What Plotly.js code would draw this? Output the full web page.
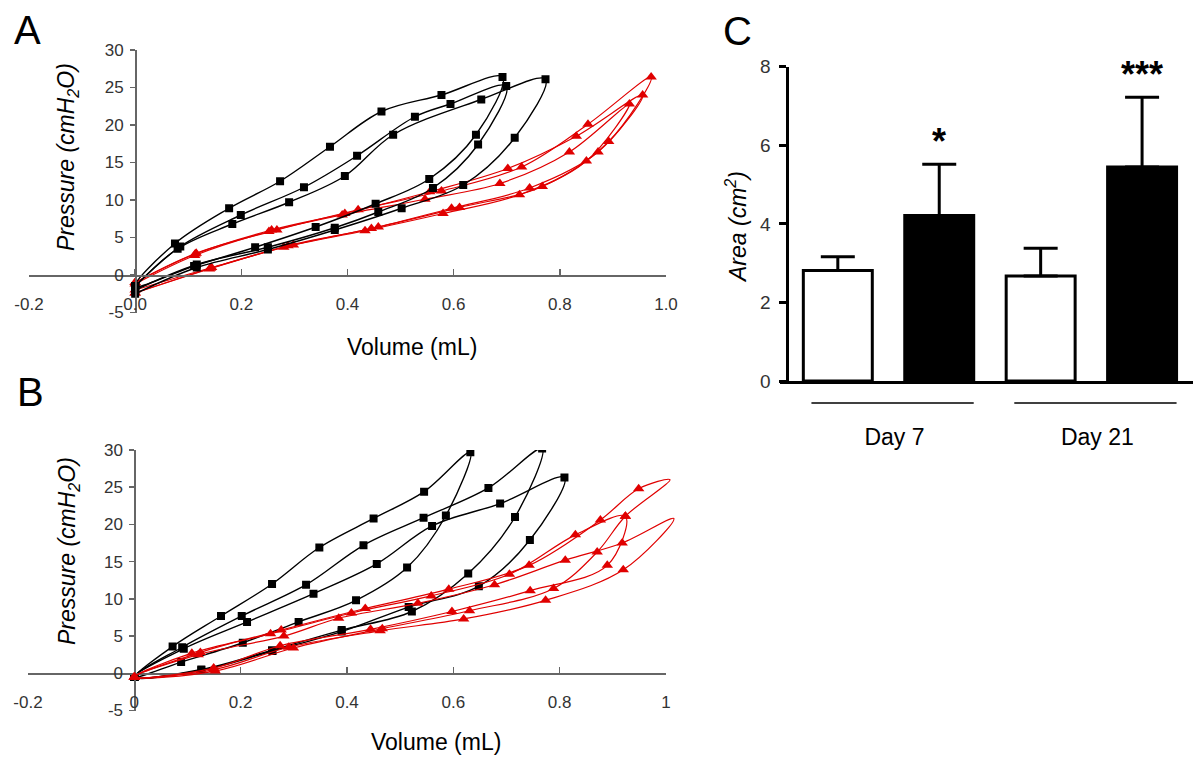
<!DOCTYPE html>
<html><head><meta charset="utf-8">
<script src="https://cdn.plot.ly/plotly-3.0.1.min.js"></script>
<style>html,body{margin:0;padding:0;background:#fff}</style>
</head><body><div id="chart" style="width:1200px;height:765px"></div>
<script>
// ---------- Panel A : pressure-volume loops ----------
const aBk1X = [0, 0.075, 0.177, 0.273, 0.367, 0.464, 0.577, 0.692, 0.642, 0.554, 0.453, 0.340, 0.226, 0.111, 0];
const aBk1Y = [-1.5, 4.2, 8.9, 12.5, 17.1, 21.8, 24.0, 26.4, 18.7, 12.8, 9.5, 6.4, 3.7, 1.2, -1.5];
const aBk2X = [0, 0.085, 0.199, 0.318, 0.418, 0.527, 0.594, 0.699, 0.646, 0.561, 0.458, 0.376, 0.250, 0.116, 0];
const aBk2Y = [-1.5, 3.8, 8.0, 11.7, 15.9, 21.1, 22.8, 25.2, 17.4, 11.6, 8.4, 6.3, 3.7, 1.4, -2.0];
const aBk3X = [0, 0.080, 0.183, 0.290, 0.395, 0.486, 0.652, 0.773, 0.715, 0.618, 0.502, 0.376, 0.250, 0.116, 0];
const aBk3Y = [-1.5, 3.5, 6.8, 9.7, 13.2, 18.7, 23.4, 26.1, 18.3, 12.0, 8.9, 6.0, 3.4, 1.0, -2.5];
const aRd1X = [0, 0.115, 0.267, 0.420, 0.577, 0.728, 0.853, 0.972, 0.892, 0.767, 0.611, 0.458, 0.298, 0.144, 0];
const aRd1Y = [-1.0, 2.9, 6.0, 8.7, 11.2, 14.4, 20.1, 26.4, 17.8, 11.8, 9.0, 6.4, 4.0, 1.0, -2.0];
const aRd2X = [0, 0.113, 0.257, 0.395, 0.555, 0.702, 0.831, 0.956, 0.872, 0.743, 0.596, 0.445, 0.288, 0.142, 0];
const aRd2Y = [-1.0, 2.8, 6.0, 8.2, 11.1, 14.2, 18.5, 24.0, 16.4, 11.6, 8.9, 6.2, 3.9, 0.9, -2.4];
const aRd3X = [0, 0.112, 0.252, 0.390, 0.546, 0.687, 0.818, 0.931, 0.850, 0.724, 0.580, 0.433, 0.280, 0.140, 0];
const aRd3Y = [-1.2, 2.6, 5.8, 8.0, 10.1, 12.2, 16.4, 22.8, 15.2, 10.7, 8.2, 5.9, 3.7, 0.8, -2.4];

// ---------- Panel B ----------
const bBk1X = [0, 0.072, 0.163, 0.259, 0.348, 0.450, 0.545, 0.632, 0.586, 0.513, 0.417, 0.309, 0.204, 0.088, 0];
const bBk1Y = [-0.5, 3.6, 7.7, 12.0, 16.9, 20.8, 24.4, 29.7, 21.2, 14.2, 9.8, 6.9, 4.1, 1.5, -0.5];
const bBk2X = [0, 0.090, 0.202, 0.323, 0.431, 0.544, 0.666, 0.767, 0.716, 0.628, 0.522, 0.390, 0.259, 0.126, 0];
const bBk2Y = [-0.5, 3.5, 7.7, 11.9, 17.2, 20.9, 24.9, 30.2, 21.0, 13.4, 8.3, 5.8, 3.1, 0.5, -0.5];
const bBk3X = [0, 0.093, 0.212, 0.337, 0.456, 0.560, 0.688, 0.809, 0.744, 0.648, 0.516, 0.390, 0.260, 0.126, 0];
const bBk3Y = [-0.5, 3.3, 6.9, 10.7, 14.7, 19.8, 22.8, 26.3, 17.9, 11.7, 8.9, 5.6, 3.0, 0.4, -0.5];
const bRd1UpX = [0, 0.124, 0.276, 0.434, 0.591, 0.742, 0.876, 0.948];
const bRd1UpY = [-0.5, 2.8, 5.8, 8.7, 11.3, 14.5, 20.6, 24.8];
const bRd1TipX = [1.007], bRd1TipY = [26.0];
const bRd1DnX = [0.923, 0.870, 0.788, 0.630, 0.466, 0.299, 0.152, 0];
const bRd1DnY = [21.1, 16.3, 11.4, 8.4, 6.0, 3.4, 0.3, -0.5];
const bRd2UpX = [0, 0.108, 0.256, 0.408, 0.558, 0.705, 0.829, 0.923];
const bRd2UpY = [-0.5, 2.7, 5.3, 8.1, 10.4, 13.3, 18.6, 21.1];
const bRd2TipX = [], bRd2TipY = [];
const bRd2DnX = [0.889, 0.744, 0.597, 0.444, 0.274, 0.149, 0];
const bRd2DnY = [14.5, 11.1, 8.3, 5.9, 3.7, 0.7, -0.5];
const bRd3UpX = [0, 0.120, 0.281, 0.384, 0.533, 0.677, 0.810, 0.917];
const bRd3UpY = [-0.5, 2.5, 5.0, 7.4, 9.4, 11.9, 15.2, 17.5];
const bRd3TipX = [1.014], bRd3TipY = [20.8];
const bRd3DnX = [0.919, 0.773, 0.619, 0.462, 0.290, 0.150, 0];
const bRd3DnY = [13.9, 9.8, 7.3, 5.7, 3.5, 0.5, -0.5];

// ---------- Panel C : bar chart ----------
const cDays = ['Day 7', 'Day 21'];
const cCtrl = [2.81, 2.67];
const cCtrlErr = [0.35, 0.71];
const cTreat = [4.21, 5.45];
const cTreatErr = [1.31, 1.77];
const cStars = ['*', '***'];

// ---------- tick labels ----------
const aTickX = [-0.2, 0, 0.2, 0.4, 0.6, 0.8, 1.0];
const aTickXText = ['-0.2', '0.0', '0.2', '0.4', '0.6', '0.8', '1.0'];
const bTickXText = ['-0.2', '0', '0.2', '0.4', '0.6', '0.8', '1'];
const pTickY = [-5, 0, 5, 10, 15, 20, 25, 30];
const pTickYText = ['-5', '0', '5', '10', '15', '20', '25', '30'];
const cTickY = [0, 2, 4, 6, 8];

const BLACK = '#000000', RED = '#e00000';
const FONT = 'Liberation Sans, Arial, sans-serif';

function loopTrace(x, y, xa, ya, color, symbol, size, lw) {
  return {type: 'scatter', mode: 'lines+markers', x: x, y: y, xaxis: xa, yaxis: ya,
    line: {color: color, width: lw, shape: 'spline', smoothing: 1},
    marker: {symbol: symbol, size: size, color: color}, hoverinfo: 'skip'};
}
function tipLoop(ux, uy, tx, ty, dx, dy, xa, ya) {
  return [
    {type: 'scatter', mode: 'lines', x: ux.concat(tx, dx), y: uy.concat(ty, dy), xaxis: xa, yaxis: ya,
      line: {color: RED, width: 1.2, shape: 'spline', smoothing: 1}, hoverinfo: 'skip'},
    {type: 'scatter', mode: 'markers', x: ux.concat(dx), y: uy.concat(dy), xaxis: xa, yaxis: ya,
      marker: {symbol: 'triangle-up', size: 10, color: RED}, hoverinfo: 'skip'}
  ];
}

const traces = [
  loopTrace(aRd1X, aRd1Y, 'x', 'y', RED, 'triangle-up', 10, 1.2),
  loopTrace(aRd2X, aRd2Y, 'x', 'y', RED, 'triangle-up', 10, 1.2),
  loopTrace(aRd3X, aRd3Y, 'x', 'y', RED, 'triangle-up', 10, 1.2),
  loopTrace(aBk1X, aBk1Y, 'x', 'y', BLACK, 'square', 8, 1.4),
  loopTrace(aBk2X, aBk2Y, 'x', 'y', BLACK, 'square', 8, 1.4),
  loopTrace(aBk3X, aBk3Y, 'x', 'y', BLACK, 'square', 8, 1.4),
  loopTrace(bBk1X, bBk1Y, 'x2', 'y2', BLACK, 'square', 8, 1.4),
  loopTrace(bBk2X, bBk2Y, 'x2', 'y2', BLACK, 'square', 8, 1.4),
  loopTrace(bBk3X, bBk3Y, 'x2', 'y2', BLACK, 'square', 8, 1.4)
].concat(
  tipLoop(bRd1UpX, bRd1UpY, bRd1TipX, bRd1TipY, bRd1DnX, bRd1DnY, 'x4', 'y2'),
  tipLoop(bRd2UpX, bRd2UpY, bRd2TipX, bRd2TipY, bRd2DnX, bRd2DnY, 'x4', 'y2'),
  tipLoop(bRd3UpX, bRd3UpY, bRd3TipX, bRd3TipY, bRd3DnX, bRd3DnY, 'x4', 'y2'),
  [
    {type: 'bar', x: cDays, y: cCtrl, xaxis: 'x3', yaxis: 'y3', name: 'control',
      marker: {color: '#ffffff', line: {color: BLACK, width: 3}},
      error_y: {type: 'data', symmetric: false, array: cCtrlErr, arrayminus: cCtrl.map(() => 0), color: BLACK, thickness: 3, width: 17},
      hoverinfo: 'skip'},
    {type: 'bar', x: cDays, y: cTreat, xaxis: 'x3', yaxis: 'y3', name: 'treated',
      marker: {color: BLACK, line: {color: BLACK, width: 3}},
      error_y: {type: 'data', symmetric: false, array: cTreatErr, arrayminus: cTreat.map(() => 0), color: BLACK, thickness: 3, width: 17},
      hoverinfo: 'skip'}
  ]
);

const px = v => v / 1200;
const py = v => 1 - v / 765;

const gray = '#666666';
function loopX(dom, pos, tt, rng) {
  return {domain: dom, range: rng, anchor: 'free', position: pos, showline: true, linecolor: gray, linewidth: 1.5,
    ticks: 'inside', ticklen: 6, tickwidth: 1.5, tickcolor: gray, tickmode: 'array', tickvals: aTickX, ticktext: tt,
    tickfont: {family: FONT, size: 17, color: '#333'}, ticklabelstandoff: 13, showgrid: false, zeroline: false, fixedrange: true};
}
function loopY(dom, pos) {
  return {domain: dom, range: [-5, 30], anchor: 'free', position: pos, showline: true, linecolor: gray, linewidth: 1.5,
    ticks: 'outside', ticklen: 5, tickwidth: 1.5, tickcolor: gray, tickmode: 'array', tickvals: pTickY, ticktext: pTickYText,
    tickfont: {family: FONT, size: 17, color: '#333'}, ticklabelstandoff: 3, showgrid: false, zeroline: false, fixedrange: true};
}

const ann = [];
function txt(t, x, y, size, extra) {
  ann.push(Object.assign({text: t, xref: 'paper', yref: 'paper', x: px(x), y: py(y), xanchor: 'center', yanchor: 'middle',
    showarrow: false, font: {family: FONT, size: size, color: '#000'}}, extra || {}));
}
txt('A', 27, 30, 40);
txt('B', 30, 392, 40);
txt('C', 737, 31, 40);
txt('<i>Pressure (cmH<sub>2</sub>O)</i>', 68, 157, 23, {textangle: -90});
txt('Volume (mL)', 412, 347, 23);
txt('<i>Pressure (cmH<sub>2</sub>O)</i>', 68, 551, 23, {textangle: -90});
txt('Volume (mL)', 436, 742, 23);
txt('<i>Area (cm<sup>2</sup>)</i>', 736, 227, 23, {textangle: -90});
cStars.forEach((s, i) => {
  ann.push({text: s, xref: 'x3', yref: 'y3', x: i + 0.25, y: cTreat[i] + cTreatErr[i], xanchor: 'center', yanchor: 'bottom',
    yshift: 0, showarrow: false, font: {family: FONT, size: 36, color: '#000', weight: 'bold'}});
});

const shapes = cDays.map((d, i) => ({type: 'line', xref: 'x3', yref: 'paper', x0: i - 0.4 + 0.02, x1: i + 0.4 + 0.02,
  y0: py(403), y1: py(403), line: {color: '#000', width: 1.5}}));

const layout = {
  width: 1200, height: 765, margin: {l: 0, r: 0, t: 0, b: 0},
  paper_bgcolor: '#ffffff', plot_bgcolor: 'rgba(0,0,0,0)', showlegend: false,
  font: {family: FONT, color: '#000'},
  bargap: 0, bargroupgap: 0.32, barmode: 'group',
  xaxis: loopX([px(29), px(666)], py(275), aTickXText, [-0.2, 1.0]),
  yaxis: loopY([py(312.5), py(50)], px(135)),
  xaxis2: loopX([px(28), px(666)], py(673.3), bTickXText, [-0.2, 1.0]),
  yaxis2: loopY([py(710.5), py(450)], px(134.4)),
  xaxis4: {domain: [px(28), px(694)], range: [-0.2, 1.052], anchor: 'y2', showline: false, showticklabels: false,
    ticks: '', showgrid: false, zeroline: false, fixedrange: true},
  xaxis3: {domain: [px(780), px(1193)], type: 'category', range: [-0.535, 1.501], anchor: 'y3', showline: true,
    linecolor: '#000', linewidth: 3, ticks: '', tickfont: {family: FONT, size: 23, color: '#000'},
    ticklabelstandoff: 33, ticklabelshift: 6, showgrid: false, zeroline: false, fixedrange: true},
  yaxis3: {domain: [py(381), py(66.7)], range: [0, 8], anchor: 'free', position: px(787.3), showline: true,
    linecolor: '#000', linewidth: 3, ticks: 'outside', ticklen: 7, tickwidth: 3, tickcolor: '#000',
    tickmode: 'array', tickvals: cTickY, tickfont: {family: FONT, size: 19, color: '#333'}, ticklabelstandoff: 5,
    showgrid: false, zeroline: false, fixedrange: true},
  annotations: ann,
  shapes: shapes
};

Plotly.newPlot('chart', traces, layout, {displayModeBar: false, staticPlot: true});
</script></body></html>
